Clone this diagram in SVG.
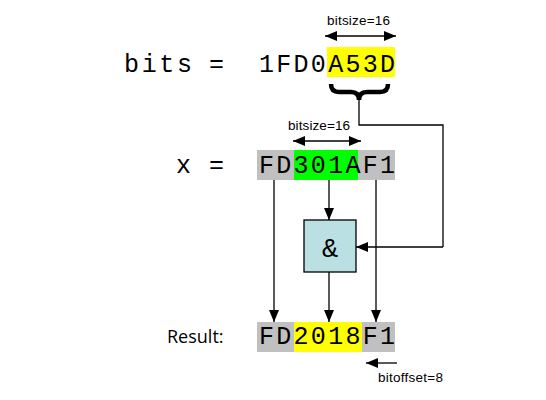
<svg xmlns="http://www.w3.org/2000/svg" width="546" height="400" viewBox="0 0 546 400">
<style>
.mono{font-family:"Courier New","Nimbus Mono PS","FreeMono","Liberation Mono",monospace;font-size:25px;fill:#000}
.lbl{font-family:"Liberation Sans",Arial,sans-serif;font-size:13.5px;fill:#000}
.ln{stroke:#000;stroke-width:1.3;fill:none}
</style>
<defs>
<marker id="ah" markerWidth="12" markerHeight="10" viewBox="0 0 12 10" refX="12" refY="5" orient="auto" markerUnits="userSpaceOnUse">
<path d="M0,0 L12,5 L0,10 Z" fill="#000"/>
</marker>
<marker id="ahs" markerWidth="12" markerHeight="10" viewBox="0 0 12 10" refX="0" refY="5" orient="auto" markerUnits="userSpaceOnUse">
<path d="M12,0 L0,5 L12,10 Z" fill="#000"/>
</marker>
</defs>
<rect width="546" height="400" fill="#fff"/>
<g id="bits">
<text class="mono" x="124" y="72" textLength="68" lengthAdjust="spacing">bits</text>
<text class="mono" x="209" y="72">=</text>
<rect x="327" y="47" width="68" height="30" fill="#ffff00"/>
<text class="mono" x="259" y="72" textLength="136" lengthAdjust="spacing">1FD0A53D</text>
<text class="lbl" x="327" y="25" textLength="63">bitsize=16</text>
<path d="M359,100 L359,125 L443,125 L443,247" class="ln"/>
<path d="M331,84 Q331,92 339,92 L351,92 Q359,92 359,100 Q359,92 367,92 L380,92 Q388,92 388,84" fill="none" stroke="#000" stroke-width="4.5"/>
</g>
<g id="x">
<text class="mono" x="176" y="173">x</text>
<text class="mono" x="209" y="173">=</text>
<rect x="257" y="150" width="138" height="30" fill="#c0c0c0"/>
<rect x="294" y="150" width="64" height="30" fill="#00ff00"/>
<text class="mono" x="259" y="173" textLength="136" lengthAdjust="spacing">FD301AF1</text>
<text class="lbl" x="288" y="130" textLength="62">bitsize=16</text>
</g>
<g id="and">
<rect x="304" y="220" width="52" height="52" fill="#bbe0e3" stroke="#000" stroke-width="1.3"/>
<text class="mono" x="330" y="257" text-anchor="middle" style="font-size:27px">&amp;</text>
</g>
<g id="result">
<text x="167" y="343" style="font-family:'Open Sans','Liberation Sans',sans-serif;font-size:18px;fill:#000">Result:</text>
<rect x="257" y="322" width="138" height="30" fill="#c0c0c0"/>
<rect x="294" y="322" width="68" height="30" fill="#ffff00"/>
<text class="mono" x="259" y="344" textLength="136" lengthAdjust="spacing">FD2018F1</text>
<text class="lbl" x="378" y="382" textLength="65">bitoffset=8</text>
</g>
<g id="connectors">
<line x1="325" y1="36" x2="396" y2="36" class="ln" marker-start="url(#ahs)" marker-end="url(#ah)"/>
<line x1="293" y1="141" x2="361" y2="141" class="ln" marker-start="url(#ahs)" marker-end="url(#ah)"/>
<line x1="443" y1="247" x2="356" y2="247" class="ln" marker-end="url(#ah)"/>
<line x1="274" y1="180" x2="274" y2="322" class="ln" marker-end="url(#ah)"/>
<line x1="329" y1="180" x2="329" y2="220" class="ln" marker-end="url(#ah)"/>
<line x1="376" y1="180" x2="376" y2="322" class="ln" marker-end="url(#ah)"/>
<line x1="329" y1="272" x2="329" y2="322" class="ln" marker-end="url(#ah)"/>
<line x1="397" y1="363" x2="366" y2="363" class="ln" marker-end="url(#ah)"/>
</g>
</svg>
